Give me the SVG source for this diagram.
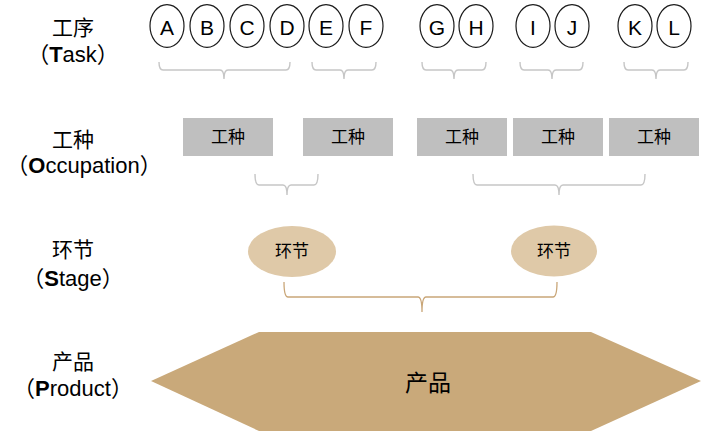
<svg xmlns="http://www.w3.org/2000/svg" width="709" height="439" viewBox="0 0 709 439">
<style>
text{font-family:"Liberation Sans","Noto Sans CJK SC",sans-serif;fill:#000;text-anchor:middle}
.lbl{font-size:21px}
.lbl2{font-size:22px}
.task ellipse{fill:#fff;stroke:#1a1a1a;stroke-width:1.2}
.task text{font-size:21px}
.occ rect{fill:#bfbfbf}
.occ text{font-size:17px}
.stage ellipse{fill:#dfc9a8}
.stage text{font-size:17px}
.br{fill:none;stroke:#c6c6c6;stroke-width:1.4}
.br2{fill:none;stroke:#c9a678;stroke-width:1.3}
</style>

<g id="labels">
<text class="lbl" x="73" y="35">工序</text>
<text class="lbl2" x="73" y="62">（<tspan font-weight="bold">T</tspan>ask）</text>
<text class="lbl" x="73" y="147">工种</text>
<text class="lbl2" x="84" y="173">（<tspan font-weight="bold">O</tspan>ccupation）</text>
<text class="lbl" x="73" y="257">环节</text>
<text class="lbl2" x="73" y="286">（<tspan font-weight="bold">S</tspan>tage）</text>
<text class="lbl" x="73" y="369">产品</text>
<text class="lbl2" x="73" y="396">（<tspan font-weight="bold">P</tspan>roduct）</text>
</g>

<g id="task-A" class="task"><ellipse cx="167" cy="26" rx="17" ry="21.3"/><text x="167" y="35">A</text></g>
<g id="task-B" class="task"><ellipse cx="207" cy="26" rx="17" ry="21.3"/><text x="207" y="35">B</text></g>
<g id="task-C" class="task"><ellipse cx="247" cy="26" rx="17" ry="21.3"/><text x="247" y="35">C</text></g>
<g id="task-D" class="task"><ellipse cx="287" cy="26" rx="17" ry="21.3"/><text x="287" y="35">D</text></g>
<g id="task-E" class="task"><ellipse cx="326" cy="26" rx="17" ry="21.3"/><text x="326" y="35">E</text></g>
<g id="task-F" class="task"><ellipse cx="366" cy="26" rx="17" ry="21.3"/><text x="366" y="35">F</text></g>
<g id="task-G" class="task"><ellipse cx="437" cy="26" rx="17" ry="21.3"/><text x="437" y="35">G</text></g>
<g id="task-H" class="task"><ellipse cx="476" cy="26" rx="17" ry="21.3"/><text x="476" y="35">H</text></g>
<g id="task-I" class="task"><ellipse cx="533" cy="26" rx="17" ry="21.3"/><text x="533" y="35">I</text></g>
<g id="task-J" class="task"><ellipse cx="572" cy="26" rx="17" ry="21.3"/><text x="572" y="35">J</text></g>
<g id="task-K" class="task"><ellipse cx="635" cy="26" rx="17" ry="21.3"/><text x="635" y="35">K</text></g>
<g id="task-L" class="task"><ellipse cx="674" cy="26" rx="17" ry="21.3"/><text x="674" y="35">L</text></g>

<g id="occ-1" class="occ"><rect x="183" y="118" width="90" height="38"/><text x="228" y="143">工种</text></g>
<g id="occ-2" class="occ"><rect x="303" y="118" width="90" height="38"/><text x="348" y="143">工种</text></g>
<g id="occ-3" class="occ"><rect x="417" y="118" width="90" height="38"/><text x="462" y="143">工种</text></g>
<g id="occ-4" class="occ"><rect x="513" y="118" width="90" height="38"/><text x="558" y="143">工种</text></g>
<g id="occ-5" class="occ"><rect x="609" y="118" width="90" height="38"/><text x="654" y="143">工种</text></g>

<g id="stage-1" class="stage"><ellipse cx="292" cy="251.5" rx="44" ry="25.5"/><text x="292" y="257">环节</text></g>
<g id="stage-2" class="stage"><ellipse cx="554" cy="251" rx="43" ry="25.5"/><text x="554" y="257">环节</text></g>

<g id="product">
<polygon points="151,381 259,332 591,332 701,381 591,431 259,431" fill="#c9a97a"/>
<text x="428" y="391" font-size="23px">产品</text>
</g>

<g id="connectors">
<path class="br" d="M159,62 Q159,70 163,70 L220,70 Q224,70 224,79 Q224,70 228,70 L286,70 Q290,70 290,62"/>
<path class="br" d="M312,62 Q312,70 316,70 L340,70 Q344,70 344,79 Q344,70 348,70 L372,70 Q376,70 376,62"/>
<path class="br" d="M422,62 Q422,70 426,70 L450,70 Q454,70 454,79 Q454,70 458,70 L482,70 Q486,70 486,62"/>
<path class="br" d="M520,62 Q520,70 524,70 L548,70 Q552,70 552,79 Q552,70 556,70 L579,70 Q583,70 583,62"/>
<path class="br" d="M624,62 Q624,70 628,70 L652,70 Q656,70 656,79 Q656,70 660,70 L684,70 Q688,70 688,62"/>
<path class="br" d="M255,174 Q255,185 259,185 L283,185 Q287,185 287,195 Q287,185 291,185 L314,185 Q318,185 318,174"/>
<path class="br" d="M473,174 Q473,185 477,185 L555,185 Q559,185 559,195 Q559,185 563,185 L641,185 Q645,185 645,174"/>
<path class="br2" d="M284,282 Q284,297 288,297 L418,297 Q422,297 422,312 Q422,297 426,297 L553,297 Q557,297 557,282"/>
</g>
</svg>
